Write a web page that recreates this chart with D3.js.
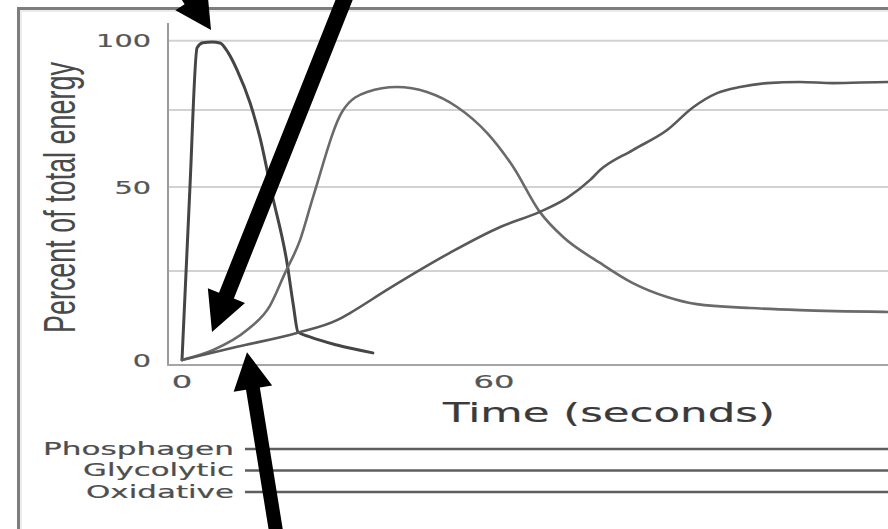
<!DOCTYPE html>
<html><head><meta charset="utf-8">
<script src="https://cdn.jsdelivr.net/npm/d3@7"></script>
<style>html,body{margin:0;padding:0;background:#fff;overflow:hidden}</style>
</head><body><svg id="c" width="888" height="529"></svg>
<script>
// ---------- data ----------
const categories = ["Phosphagen", "Glycolytic", "Oxidative"];
const phosTime  = [0, 1.5, 2.9, 4.0, 5.8, 7.3, 8.9, 10.6, 13.1, 15.0, 17.3, 20.2, 21.4, 22.3, 24.6, 29.8, 36.7];
const phosValue = [0, 49, 97.5, 99.3, 99.5, 99.2, 95.6, 89.4, 77.5, 66.0, 48, 27.4, 15.5, 7.9, 6.5, 4.2, 2.0];
const glycTime  = [0, 6.0, 12.5, 16.9, 19.8, 22.7, 25.2, 31.0, 35.6, 41.3, 47.1, 52.9, 58.7, 63.7, 68.8, 73.3, 80.4, 86.7, 93.3, 99.0, 109.2, 118.8, 135.8, 142];
const glycValue = [0, 2.8, 8.4, 15.2, 24.4, 34.2, 47, 75, 81.5, 83.3, 81.5, 76.1, 67.5, 56.5, 42.6, 35.1, 27.4, 21.6, 17.7, 15.7, 14.6, 14.0, 13.5, 13.4];
const oxidTime  = [0, 10.6, 22.1, 29.8, 32.3, 39.4, 51.5, 61.2, 68.8, 74.0, 78.5, 80.4, 86.7, 93.3, 98.3, 102.9, 107.3, 112.5, 118.8, 125.2, 135.8, 142];
const oxidValue = [0, 3.7, 7.6, 11.2, 13.2, 19.7, 30.4, 38.1, 42.6, 46.7, 52.3, 55.5, 62, 68.5, 76, 81.1, 83.3, 84.7, 85.1, 84.7, 85.1, 85.1];
const yTickValues = [0, 50, 100];
const yGridValues = [25, 50, 75, 100];
const xTickValues = [0, 60];
const xTitle = "Time (seconds)";
const yTitle = "Percent of total energy";
// annotation arrows: tip in data units (time, percent)
const arrowTipTime  = [5.58, 5.77, 12.5];
const arrowTipValue = [103.9, 7.9, 2.2];

// ---------- chart ----------
const svg = d3.select("#c");
const x = d3.scaleLinear().domain([0, 60]).range([182, 494]);
const y = d3.scaleLinear().domain([0, 25, 50, 75, 100]).range([360, 271, 187, 110, 40.7]);

// text fitted to a target width (horizontal stretch as in the reference)
function fitText(str, px, py, target, anchor, opts) {
  const t = svg.append("text").attr("x", 0).attr("y", 0)
    .attr("font-family", opts.family).attr("font-size", opts.size)
    .attr("fill", opts.fill).text(str);
  if (opts.stroke) t.attr("stroke", opts.fill).attr("stroke-width", opts.stroke);
  const w = t.node().getComputedTextLength();
  const s = target / w;
  let dx = 0;
  if (anchor === "end") dx = -target;
  if (anchor === "middle") dx = -target / 2;
  const rot = opts.rotate ? ` rotate(${opts.rotate})` : "";
  t.attr("transform", `translate(${px},${py})${rot} translate(${dx},0) scale(${s},1)`);
  return t;
}
const font = "'DejaVu Sans', Verdana, sans-serif";

// outer frame
svg.append("rect").attr("x", 18.5).attr("y", 8.5).attr("width", 900).attr("height", 540)
  .attr("fill", "#fff").attr("stroke", "#7d7d7d").attr("stroke-width", 3);
svg.append("rect").attr("x", 21).attr("y", 11).attr("width", 900).attr("height", 540)
  .attr("fill", "none").attr("stroke", "#e6e6e6").attr("stroke-width", 1.5);

// gridlines
svg.selectAll(".grid").data(yGridValues).join("line")
  .attr("x1", 168).attr("x2", 888)
  .attr("y1", d => y(d)).attr("y2", d => y(d))
  .attr("stroke", "#d2d2d2").attr("stroke-width", 2);

// axes lines
svg.append("line").attr("x1", 168).attr("x2", 168).attr("y1", 23).attr("y2", y(0) + 6)
  .attr("stroke", "#9a9a9a").attr("stroke-width", 2);
svg.append("line").attr("x1", 167).attr("x2", 888).attr("y1", y(0) + 5).attr("y2", y(0) + 5)
  .attr("stroke", "#a5a5a5").attr("stroke-width", 2);

// y tick labels
yTickValues.forEach(v => {
  const s = String(v);
  fitText(s, 151, y(v) + 6.5, s.length * 18.3, "end", {family: font, size: 17, fill: "#555", stroke: 0.2});
});
// x tick labels
xTickValues.forEach(v => {
  const s = String(v);
  fitText(s, x(v), 388, s.length * 20.5, "middle", {family: font, size: 17, fill: "#555", stroke: 0.2});
});
// axis titles
fitText(xTitle, 443, 422, 332, "start", {family: font, size: 26.5, fill: "#3a3a3a", stroke: 0.2});
fitText(yTitle, 75, 333, 271, "start", {family: "'Liberation Sans Narrow', 'Liberation Sans', sans-serif", size: 44, fill: "#4a4a4a", rotate: -90});

// curves
const line = d3.line().x(d => x(d[0])).y(d => y(d[1])).curve(d3.curveMonotoneX);
const series = [
  {t: phosTime, v: phosValue, c: "#454545", w: 3},
  {t: glycTime, v: glycValue, c: "#6a6a6a", w: 2.6},
  {t: oxidTime, v: oxidValue, c: "#595959", w: 2.6}
];
series.forEach(s => {
  svg.append("path").attr("d", line(s.t.map((t, i) => [t, s.v[i]])))
    .attr("fill", "none").attr("stroke", s.c).attr("stroke-width", s.w)
    .attr("stroke-linejoin", "round").attr("stroke-linecap", "round");
});

// legend rows
const ly = d3.scaleLinear().domain([0, 2]).range([449, 492]);
const legendLen = [191, 151, 148];
categories.forEach((name, i) => {
  fitText(name, 234, ly(i) + 5.5, legendLen[i], "end", {family: font, size: 17, fill: "#4e4e4e", stroke: 0.2});
  svg.append("line").attr("x1", 245).attr("x2", 888).attr("y1", ly(i)).attr("y2", ly(i))
    .attr("stroke", "#5e5e5e").attr("stroke-width", 2.5);
});

// annotation arrows
const arrowStyle = [
  {angle: 56.8, len: 120, shaft: 16, headLen: 36, headW: 38},
  {angle: 111.7, len: 400, shaft: 16, headLen: 39, headW: 40},
  {angle: -99.2, len: 220, shaft: 14, headLen: 37, headW: 39}
];
arrowTipTime.forEach((tt, i) => {
  const st = arrowStyle[i];
  const a = st.angle * Math.PI / 180;
  const ux = Math.cos(a), uy = Math.sin(a), nx = -uy, ny = ux;
  const tx = x(tt), tyy = y(arrowTipValue[i]);
  const bx = tx - ux * st.headLen, by = tyy - uy * st.headLen;
  const ex = tx - ux * st.len, ey = tyy - uy * st.len;
  const pts = [
    [tx, tyy],
    [bx + nx * st.headW / 2, by + ny * st.headW / 2],
    [bx + nx * st.shaft / 2, by + ny * st.shaft / 2],
    [ex + nx * st.shaft / 2, ey + ny * st.shaft / 2],
    [ex - nx * st.shaft / 2, ey - ny * st.shaft / 2],
    [bx - nx * st.shaft / 2, by - ny * st.shaft / 2],
    [bx - nx * st.headW / 2, by - ny * st.headW / 2]
  ];
  svg.append("path").attr("d", "M" + pts.map(p => p.join(",")).join("L") + "Z").attr("fill", "#000");
});
</script></body></html>
